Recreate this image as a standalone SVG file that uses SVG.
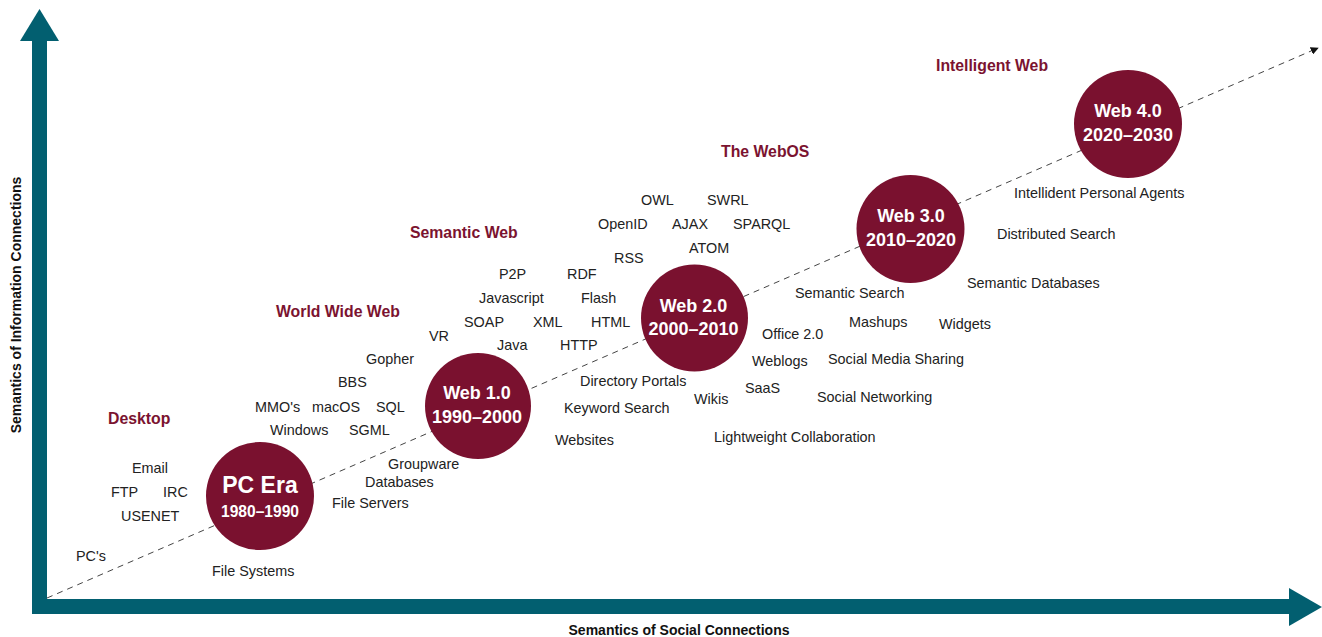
<svg xmlns="http://www.w3.org/2000/svg" width="1322" height="637" viewBox="0 0 1322 637">
<defs>
<style>
.t{font-family:"Liberation Sans",Arial,Helvetica,sans-serif;font-size:14.4px;fill:#222}
.era{font-family:"Liberation Sans",Arial,Helvetica,sans-serif;font-size:15.8px;font-weight:bold;fill:#7B1330}
.ax{font-family:"Liberation Sans",Arial,Helvetica,sans-serif;font-size:14px;font-weight:bold;fill:#111}
.c{fill:#7A112F}
.ct{font-family:"Liberation Sans",Arial,Helvetica,sans-serif;font-weight:bold;fill:#fff;text-anchor:middle}
</style>
<marker id="ah" viewBox="0 0 10 10" refX="9" refY="5" markerWidth="8" markerHeight="8" markerUnits="userSpaceOnUse" orient="auto">
<path d="M0,0 L10,5 L0,10 z" fill="#111"/>
</marker>
</defs>
<rect width="1322" height="637" fill="#fff"/>
<g id="axes" fill="#025F70">
<rect x="32" y="40" width="15" height="574"/>
<polygon points="39.5,9 20,41 59,41"/>
<rect x="32" y="599" width="1258" height="15"/>
<polygon points="1322,607 1289,588 1289,626"/>
</g>
<g id="connectors">
<line x1="47" y1="598" x2="1318" y2="48" stroke="#444" stroke-width="1" stroke-dasharray="6,5" marker-end="url(#ah)"/>
</g>
<g id="pc-era"><circle class="c" cx="260" cy="496" r="54"/><text class="ct" x="260" y="493" font-size="23">PC Era</text><text class="ct" x="260" y="517" font-size="15.6">1980–1990</text></g>
<g id="web1"><circle class="c" cx="478" cy="406" r="53"/><text class="ct" x="477" y="399" font-size="18">Web 1.0</text><text class="ct" x="477" y="423" font-size="18">1990–2000</text></g>
<g id="web2"><circle class="c" cx="694.5" cy="318" r="53.5"/><text class="ct" x="693.5" y="312" font-size="18">Web 2.0</text><text class="ct" x="693.5" y="335" font-size="18">2000–2010</text></g>
<g id="web3"><circle class="c" cx="910.5" cy="229" r="54"/><text class="ct" x="911" y="222" font-size="18">Web 3.0</text><text class="ct" x="911" y="246" font-size="18">2010–2020</text></g>
<g id="web4"><circle class="c" cx="1128" cy="124" r="54"/><text class="ct" x="1128" y="117" font-size="18">Web 4.0</text><text class="ct" x="1128" y="141" font-size="18">2020–2030</text></g>
<g id="eras">
<text class="era" x="936" y="71">Intelligent Web</text>
<text class="era" x="721" y="157">The WebOS</text>
<text class="era" x="410" y="238">Semantic Web</text>
<text class="era" x="276" y="317">World Wide Web</text>
<text class="era" x="108" y="424">Desktop</text>
</g>
<g id="labels">
<text class="t" x="132" y="473">Email</text>
<text class="t" x="111" y="497">FTP</text>
<text class="t" x="163" y="497">IRC</text>
<text class="t" x="121" y="521">USENET</text>
<text class="t" x="76" y="561">PC's</text>
<text class="t" x="212" y="576">File Systems</text>
<text class="t" x="429" y="341">VR</text>
<text class="t" x="366" y="364">Gopher</text>
<text class="t" x="338" y="387">BBS</text>
<text class="t" x="255" y="412">MMO's</text>
<text class="t" x="312" y="412">macOS</text>
<text class="t" x="376" y="412">SQL</text>
<text class="t" x="270" y="435">Windows</text>
<text class="t" x="349" y="435">SGML</text>
<text class="t" x="388" y="469">Groupware</text>
<text class="t" x="365" y="487">Databases</text>
<text class="t" x="332" y="508">File Servers</text>
<text class="t" x="641" y="205">OWL</text>
<text class="t" x="707" y="205">SWRL</text>
<text class="t" x="598" y="229">OpenID</text>
<text class="t" x="672" y="229">AJAX</text>
<text class="t" x="733" y="229">SPARQL</text>
<text class="t" x="689" y="253">ATOM</text>
<text class="t" x="614" y="263">RSS</text>
<text class="t" x="499" y="279">P2P</text>
<text class="t" x="567" y="279">RDF</text>
<text class="t" x="479" y="303">Javascript</text>
<text class="t" x="581" y="303">Flash</text>
<text class="t" x="464" y="327">SOAP</text>
<text class="t" x="533" y="327">XML</text>
<text class="t" x="591" y="327">HTML</text>
<text class="t" x="497" y="350">Java</text>
<text class="t" x="560" y="350">HTTP</text>
<text class="t" x="580" y="386">Directory Portals</text>
<text class="t" x="564" y="413">Keyword Search</text>
<text class="t" x="555" y="445">Websites</text>
<text class="t" x="694" y="404">Wikis</text>
<text class="t" x="745" y="393">SaaS</text>
<text class="t" x="752" y="366">Weblogs</text>
<text class="t" x="762" y="339">Office 2.0</text>
<text class="t" x="714" y="442">Lightweight Collaboration</text>
<text class="t" x="795" y="298">Semantic Search</text>
<text class="t" x="849" y="327">Mashups</text>
<text class="t" x="939" y="329">Widgets</text>
<text class="t" x="828" y="364">Social Media Sharing</text>
<text class="t" x="817" y="402">Social Networking</text>
<text class="t" x="967" y="288">Semantic Databases</text>
<text class="t" x="997" y="239">Distributed Search</text>
<text class="t" x="1014" y="198">Intellident Personal Agents</text>
</g>
<g id="axis-labels">
<text class="ax" x="679" y="635" text-anchor="middle">Semantics of Social Connections</text>
<text class="ax" transform="translate(21,305) rotate(-90)" text-anchor="middle">Semantics of Information Connections</text>
</g>
</svg>
